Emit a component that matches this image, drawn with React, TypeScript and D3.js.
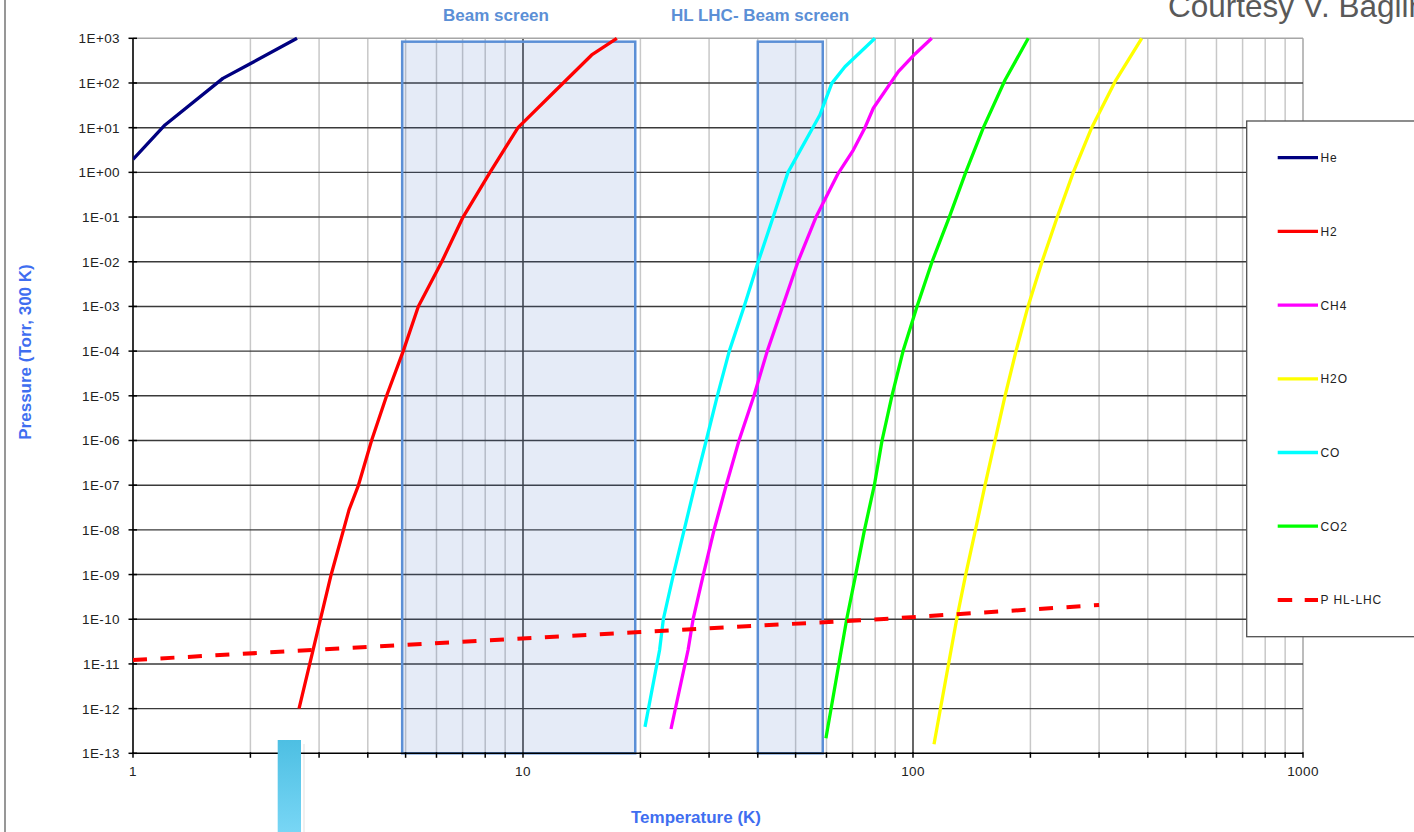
import React from "react";
import * as d3 from "d3";

type Pt = [number, number];

const WIDTH = 1414;
const HEIGHT = 832;

// Vapour pressure curves: [temperature (K), pressure (Torr)]
const heliumCurve: Pt[] = [
  [1, 1.96], [1.208, 11.5], [1.7, 127], [1.97, 253], [2.634, 1000],
];
const hydrogenCurve: Pt[] = [
  [2.665, 1.0e-12], [3.22, 9.8e-10], [3.58, 2.8e-8], [3.78, 9.6e-8], [4.09, 1e-6],
  [4.47, 1e-5], [4.93, 1e-4], [5.39, 1e-3], [6.19, 1e-2], [7.02, 1e-1],
  [8.23, 1], [9.71, 10], [11.8, 53.8], [15.0, 423], [17.4, 1000],
];
const methaneCurve: Pt[] = [
  [23.96, 3.5e-13], [26.5, 2.05e-11], [27.3, 1e-10], [29.0, 1e-9], [30.9, 1e-8],
  [33.2, 1e-7], [35.8, 1e-6], [39.1, 1e-5], [42.3, 1e-4], [46.3, 1e-3],
  [50.7, 1e-2], [56.4, 1e-1], [64.3, 0.95], [70.3, 3.16], [75.3, 10],
  [79.1, 27.2], [91.7, 179], [101.2, 446], [111.7, 1000],
];
const waterCurve: Pt[] = [
  [113.2, 1.6e-13], [129.4, 1e-10], [136.5, 1e-9], [144.6, 1e-8], [153.0, 1e-7],
  [162.3, 1e-6], [172.2, 1e-5], [183.7, 1e-4], [197.2, 1e-3], [214.2, 1e-2],
  [234.4, 1e-1], [257.6, 1], [287.2, 10], [329.6, 107], [385.9, 1000],
];
const carbonMonoxideCurve: Pt[] = [
  [20.55, 3.9e-13], [22.4, 2.05e-11], [22.9, 1e-10], [24.3, 1e-9], [25.9, 1e-8],
  [27.6, 1e-7], [29.5, 1e-6], [31.5, 1e-5], [33.8, 1e-4], [36.9, 1e-3],
  [40.1, 1e-2], [43.8, 1e-1], [47.8, 1], [57.7, 19.2], [61.9, 98],
  [66.9, 231], [79.9, 1000],
];
const carbonDioxideCurve: Pt[] = [
  [59.8, 2.17e-13], [67.6, 1e-10], [71.3, 1e-9], [75.1, 1e-8], [79.6, 1e-7],
  [83.3, 1e-6], [88.3, 1e-5], [94.3, 1e-4], [102.4, 1e-3], [111.9, 1e-2],
  [123.9, 1e-1], [136.5, 1], [151.5, 10], [172.2, 116.7], [197.5, 1000],
];
// Design pressure for HL-LHC
const hlLhcPressure: Pt[] = [
  [1, 1.23e-11], [20, 5.2e-11], [82, 1.0e-10], [300, 2.08e-10],
];

const seriesNames = ["He", "H2", "CH4", "H2O", "CO", "CO2", "P HL-LHC"];
const seriesColors = ["#000080", "#ff0000", "#ff00ff", "#ffff00", "#00ffff", "#00ff00", "#ff0000"];
const seriesData = [heliumCurve, hydrogenCurve, methaneCurve, waterCurve, carbonMonoxideCurve, carbonDioxideCurve, hlLhcPressure];

const temperatureTickLabels = ["1", "10", "100", "1000"];
const pressureTickLabels = [
  "1E-13", "1E-12", "1E-11", "1E-10", "1E-09", "1E-08", "1E-07", "1E-06",
  "1E-05", "1E-04", "1E-03", "1E-02", "1E-01", "1E+00", "1E+01", "1E+02", "1E+03",
];

// Temperature windows of the beam screens
const beamScreenRange: Pt = [4.9, 19.4];
const hlLhcScreenRange: Pt = [40, 58.7];
const screenBoxTopPressure = 840;

const PLOT_LEFT = 133;
const PLOT_RIGHT = 1303;
const PLOT_TOP = 38.3;
const PLOT_BOTTOM = 753.3;

const FONT = "'Liberation Sans', Arial, Helvetica, sans-serif";
const TITLE_BLUE = "#5b8fd6";
const AXIS_BLUE = "#3f6ef0";

export default function App() {
  const x = d3.scaleLog().domain([1, 1000]).range([PLOT_LEFT, PLOT_RIGHT]);
  const y = d3.scaleLog().domain([1e-13, 1e3]).range([PLOT_BOTTOM, PLOT_TOP]);

  const line = d3
    .line<Pt>()
    .x((d) => x(d[0]))
    .y((d) => y(d[1]));

  const minorTemps: number[] = [];
  [1, 10, 100].forEach((dec) => {
    for (let k = 1; k <= 9; k++) minorTemps.push(k * dec);
  });
  minorTemps.push(1000);

  const pressureTicks = pressureTickLabels.map((l) => Number(l));
  const temperatureTicks = temperatureTickLabels.map((l) => Number(l));

  const screenBox = (range: Pt, key: string) => (
    <rect
      key={key}
      x={x(range[0])}
      y={y(screenBoxTopPressure)}
      width={x(range[1]) - x(range[0])}
      height={y(1e-13) - y(screenBoxTopPressure)}
      fill="#4472c4"
      fillOpacity={0.14}
      stroke={TITLE_BLUE}
      strokeWidth={2.5}
    />
  );

  const legendX0 = 1277.7;
  const legendX1 = 1318;
  const legendY0 = 157.7;
  const legendStep = 73.7;

  return (
    <svg
      width={WIDTH}
      height={HEIGHT}
      style={{ position: "absolute", left: 0, top: 0, display: "block", background: "#fff" }}
    >
      <defs>
        <linearGradient id="barFill" x1="0" y1="0" x2="0" y2="1">
          <stop offset="0" stopColor="#4dbfe3" />
          <stop offset="1" stopColor="#78d6f5" />
        </linearGradient>
        <clipPath id="plotClip">
          <rect x={PLOT_LEFT} y={PLOT_TOP - 2} width={PLOT_RIGHT - PLOT_LEFT} height={PLOT_BOTTOM - PLOT_TOP + 4} />
        </clipPath>
      </defs>

      {/* outer frame edge */}
      <line x1={5} x2={5} y1={0} y2={HEIGHT} stroke="#8c8c8c" strokeWidth={1.8} />

      {/* vertical grid */}
      {minorTemps.map((t, i) => {
        const major = temperatureTicks.includes(t) && t !== 1 && t !== 1000;
        if (t === 1) return null;
        return (
          <line
            key={"vg" + i}
            x1={x(t)}
            x2={x(t)}
            y1={PLOT_TOP}
            y2={PLOT_BOTTOM}
            stroke={major ? "#000" : t === 1000 ? "#a6a6a6" : "#c8c8c8"}
            strokeWidth={major ? 1.2 : 1.5}
          />
        );
      })}
      {/* horizontal grid */}
      {pressureTicks.map((p, i) =>
        p === 1e3 || p === 1e-13 ? null : (
          <line key={"hg" + i} x1={PLOT_LEFT} x2={PLOT_RIGHT} y1={y(p)} y2={y(p)} stroke="#3a3a3a" strokeWidth={1.4} />
        )
      )}
      <line x1={PLOT_LEFT} x2={PLOT_RIGHT} y1={PLOT_TOP} y2={PLOT_TOP} stroke="#a6a6a6" strokeWidth={1.5} />

      {/* beam screen temperature windows */}
      {screenBox(beamScreenRange, "bs")}
      {screenBox(hlLhcScreenRange, "hl")}

      {/* axes */}
      <line x1={PLOT_LEFT} x2={PLOT_LEFT} y1={PLOT_TOP} y2={PLOT_BOTTOM} stroke="#000" strokeWidth={1.6} />
      <line x1={PLOT_LEFT} x2={PLOT_RIGHT} y1={PLOT_BOTTOM} y2={PLOT_BOTTOM} stroke="#000" strokeWidth={1.6} />
      {pressureTicks.map((p, i) => (
        <g key={"yt" + i}>
          <line x1={PLOT_LEFT - 4.5} x2={PLOT_LEFT + 4} y1={y(p)} y2={y(p)} stroke="#000" strokeWidth={1.5} />
          <text
            x={120}
            y={y(p) + 5}
            textAnchor="end"
            fontFamily={FONT}
            fontSize={13.5}
            letterSpacing={0.4}
            fill="#222"
          >
            {pressureTickLabels[i]}
          </text>
        </g>
      ))}
      {minorTemps.map((t, i) => (
        <line key={"xt" + i} x1={x(t)} x2={x(t)} y1={PLOT_BOTTOM - 1} y2={PLOT_BOTTOM + 4.5} stroke="#000" strokeWidth={1.5} />
      ))}
      {temperatureTicks.map((t, i) => (
        <text
          key={"xl" + i}
          x={x(t)}
          y={776}
          textAnchor="middle"
          fontFamily={FONT}
          fontSize={13.5}
          letterSpacing={0.4}
          fill="#222"
        >
          {temperatureTickLabels[i]}
        </text>
      ))}

      {/* curves */}
      <g clipPath="url(#plotClip)">
        {seriesData.map((data, i) => (
          <path
            key={"s" + i}
            d={line(data) || ""}
            fill="none"
            stroke={seriesColors[i]}
            strokeWidth={seriesNames[i] === "P HL-LHC" ? 4 : 3.3}
            strokeDasharray={seriesNames[i] === "P HL-LHC" ? "14 13.5" : undefined}
            strokeLinejoin="round"
          />
        ))}
      </g>

      {/* titles */}
      <text x={496} y={21} textAnchor="middle" fontFamily={FONT} fontWeight="bold" fontSize={17} fill={TITLE_BLUE}>
        Beam screen
      </text>
      <text x={760} y={20.5} textAnchor="middle" fontFamily={FONT} fontWeight="bold" fontSize={17} fill={TITLE_BLUE}>
        HL LHC- Beam screen
      </text>
      <text x={1168} y={17} fontFamily={FONT} fontSize={31.5} fill="#595959">
        Courtesy V. Baglin
      </text>

      {/* axis titles */}
      <text
        transform={`translate(31,352) rotate(-90)`}
        textAnchor="middle"
        fontFamily={FONT}
        fontWeight="bold"
        fontSize={17}
        fill={AXIS_BLUE}
      >
        Pressure (Torr, 300 K)
      </text>
      <text x={696} y={823} textAnchor="middle" fontFamily={FONT} fontWeight="bold" fontSize={17} fill={AXIS_BLUE}>
        Temperature (K)
      </text>

      {/* legend */}
      <rect x={1246.7} y={121} width={200} height={515.7} fill="#fff" stroke="#505050" strokeWidth={1.3} />
      {seriesNames.map((name, i) => {
        const ly = legendY0 + i * legendStep;
        const dashed = name === "P HL-LHC";
        return (
          <g key={"lg" + i}>
            <line
              x1={legendX0}
              x2={legendX1}
              y1={ly}
              y2={ly}
              stroke={seriesColors[i]}
              strokeWidth={dashed ? 4 : 3.3}
              strokeDasharray={dashed ? "14.5 12.5" : undefined}
            />
            <text x={legendX1 + 2.5} y={ly + 4.5} fontFamily={FONT} fontSize={12} letterSpacing={0.9} fill="#222">
              {name}
            </text>
          </g>
        );
      })}

      {/* cryostat marker bar */}
      <rect x={303} y={744} width={2} height={88} fill="#000" opacity={0.06} />
      <rect x={277.7} y={740} width={23.3} height={92} fill="url(#barFill)" />
    </svg>
  );
}
